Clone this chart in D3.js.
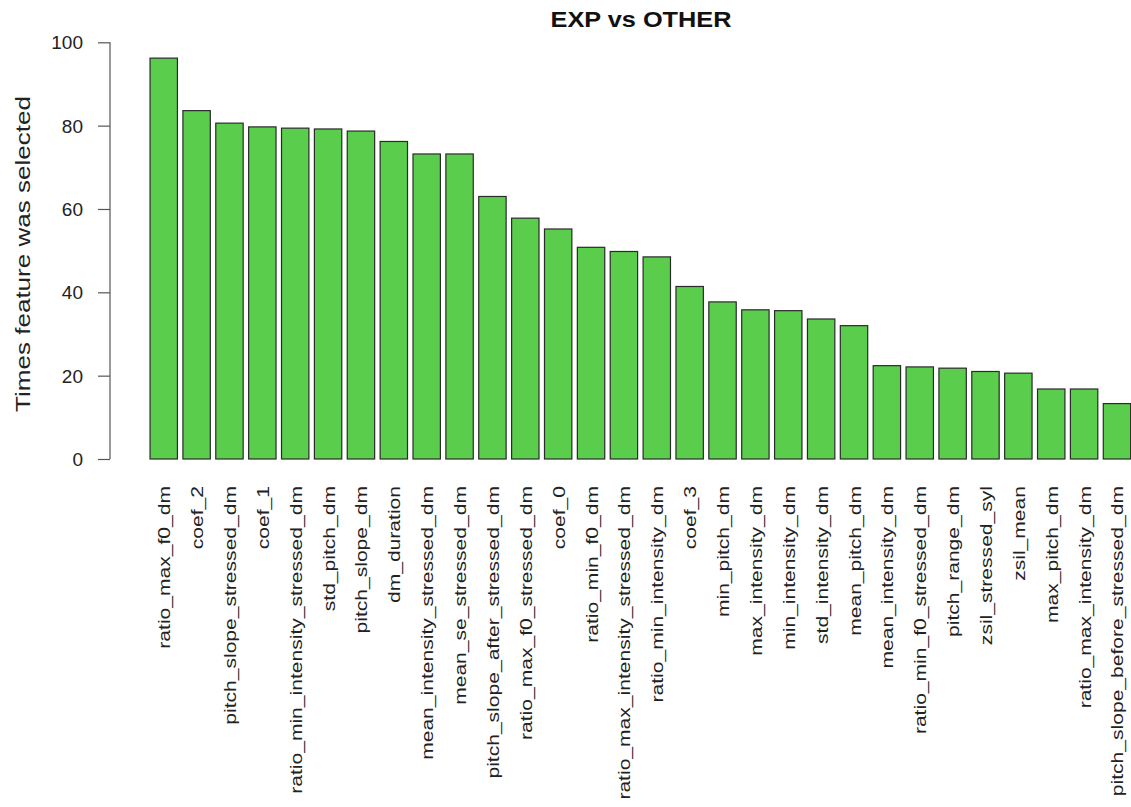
<!DOCTYPE html>
<html><head><meta charset="utf-8">
<script src="https://cdn.jsdelivr.net/npm/d3@7"></script>
<style>body{margin:0;background:#fff}svg{display:block}text{font-family:"Liberation Sans",Arial,sans-serif}</style>
</head><body>
<svg id="c" width="1131" height="807"></svg>
<script>
const features = ["ratio_max_f0_dm","coef_2","pitch_slope_stressed_dm","coef_1","ratio_min_intensity_stressed_dm","std_pitch_dm","pitch_slope_dm","dm_duration","mean_intensity_stressed_dm","mean_se_stressed_dm","pitch_slope_after_stressed_dm","ratio_max_f0_stressed_dm","coef_0","ratio_min_f0_dm","ratio_max_intensity_stressed_dm","ratio_min_intensity_dm","coef_3","min_pitch_dm","max_intensity_dm","min_intensity_dm","std_intensity_dm","mean_pitch_dm","mean_intensity_dm","ratio_min_f0_stressed_dm","pitch_range_dm","zsil_stressed_syl","zsil_mean","max_pitch_dm","ratio_max_intensity_dm","pitch_slope_before_stressed_dm"];
const counts = [96.2,83.6,80.6,79.7,79.4,79.2,78.7,76.2,73.2,73.2,63,57.8,55.2,50.8,49.8,48.5,41.4,37.7,35.8,35.6,33.6,32.0,22.4,22.1,21.8,21.0,20.6,16.8,16.8,13.3];
const yTicks = [0,20,40,60,80,100];
const title = "EXP vs OTHER";
const yLabel = "Times feature was selected";

const svg = d3.select("#c");
const y = d3.scaleLinear().domain([0,100]).range([459,42.3]);
const x = d3.scaleBand().domain(features).range([147.3,1133.4]).paddingInner(0.1667).paddingOuter(0.0833);

svg.append("g").selectAll("rect").data(features).join("rect")
  .attr("x", d=>x(d)).attr("width", x.bandwidth())
  .attr("y", (d,i)=>y(counts[i])).attr("height", (d,i)=>y(0)-y(counts[i]))
  .attr("fill","#5bcd4c").attr("stroke","#2a2a2a").attr("stroke-width",1.2);

const ya = svg.append("g").attr("transform","translate(110,0)")
  .call(d3.axisLeft(y).tickValues(yTicks).tickSize(12).tickPadding(15).tickFormat(d3.format("d")));
ya.select(".domain").attr("stroke","#555").attr("stroke-width",1.2).attr("d","M0,"+y(0)+"V"+y(100));
ya.selectAll(".tick line").attr("stroke","#555").attr("stroke-width",1.2);
ya.selectAll(".tick text").attr("font-size",19).attr("fill","#222").attr("dy","0.35em");

svg.append("g").selectAll("text").data(features).join("text")
  .attr("transform", d=>`translate(${x(d)+x.bandwidth()/2+6.5},486) rotate(-90) scale(1.24,1)`)
  .attr("text-anchor","end").attr("font-size",17)
  .attr("fill","#222").text(d=>d);

svg.append("text").attr("transform","translate(641,27) scale(1.15,1)").attr("text-anchor","middle")
  .attr("font-size",22).attr("font-weight","bold").attr("fill","#111").text(title);
svg.append("text").attr("transform","translate(30,254) rotate(-90) scale(1.27,1)").attr("text-anchor","middle")
  .attr("font-size",20.5).attr("fill","#222").text(yLabel);
</script>
</body></html>
